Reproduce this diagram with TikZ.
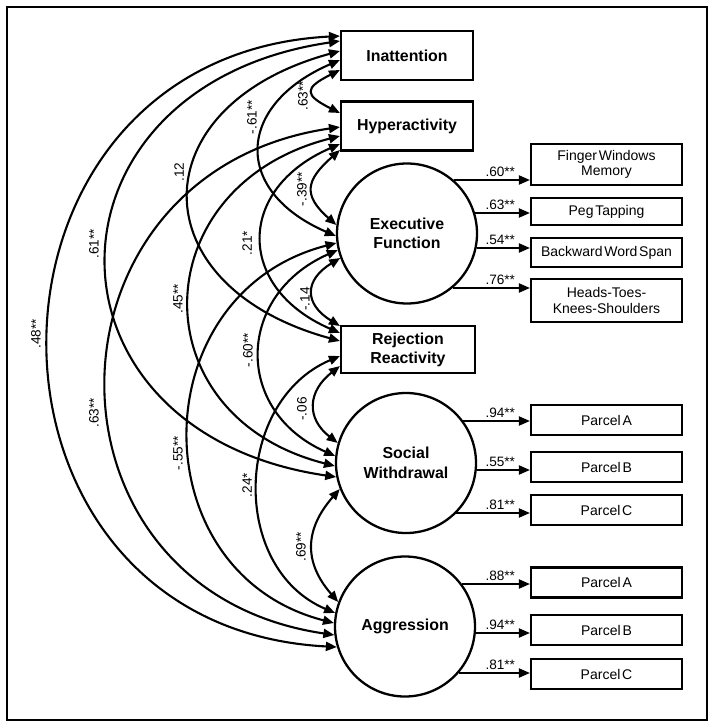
\documentclass[tikz,border=0pt]{standalone}
\usepackage{fontspec}
\setmainfont{Liberation Sans}
\newfontfamily\indfont[WordSpace=0.45]{Liberation Sans}
\usetikzlibrary{arrows.meta,calc}
\begin{document}
\begin{tikzpicture}[x=1pt,y=-1pt,
  box/.style={draw, line width=2.5pt, inner sep=0pt, align=center, font=\bfseries\fontsize{15.9}{19.5}\selectfont},
  lat/.style={draw, circle, line width=2.3pt, minimum size=140pt, inner sep=0pt, align=center, font=\bfseries\fontsize{15.9}{19.5}\selectfont},
  ind/.style={draw, line width=2.3pt, minimum width=150.8pt, inner sep=0pt, align=center, font=\indfont\fontsize{14}{15.5}\selectfont},
  stip/.tip={Triangle[length=11pt,width=9pt]},
  cov/.style={stip-stip, line width=2.1pt},
  load/.style={-stip, line width=1.9pt},
  alab/.style={rotate=90, inner sep=0pt, font=\fontsize{13.6}{15}\selectfont},
  llab/.style={anchor=south east, inner sep=2.5pt, xshift=-11.5pt, font=\fontsize{13.6}{15}\selectfont}
]
\useasboundingbox (0,0) rectangle (714,728);
\draw[line width=1.4pt] (7,7) rectangle (707,720);

% constructs
\node[box, minimum width=131.6pt, minimum height=48.6pt] (Inatt) at (407,55.5) {Inattention};
\node[box, minimum width=131.6pt, minimum height=49.3pt] (Hyp) at (407,126) {Hyperactivity};
\node[lat] (EF) at (407,233.5) {Executive\\Function};
\node[box, minimum width=133.6pt, minimum height=47pt] (RR) at (408,349.7) {Rejection\\Reactivity};
\node[lat] (SW) at (406,463) {Social\\Withdrawal};
\node[lat] (Agg) at (405,626.5) {Aggression};

% indicators
\node[ind, minimum height=40.8pt] (FWM) at (606.5,164.5) {Finger Windows\\Memory};
\node[ind, minimum height=26.8pt] (PT) at (606.5,211.5) {Peg Tapping};
\node[ind, minimum height=28.8pt] (BWS) at (606.5,252.5) {Backward Word Span};
\node[ind, minimum height=42.8pt] (HTKS) at (606.5,300.5) {Heads-Toes-\\Knees-Shoulders};
\node[ind, minimum height=29.8pt] (SWA) at (606.5,420) {Parcel A};
\node[ind, minimum height=29.8pt] (SWB) at (606.5,467) {Parcel B};
\node[ind, minimum height=29.8pt] (SWC) at (606.5,510) {Parcel C};
\node[ind, minimum height=29.8pt] (AgA) at (606.5,582.5) {Parcel A};
\node[ind, minimum height=29.8pt] (AgB) at (606.5,630) {Parcel B};
\node[ind, minimum height=29.8pt] (AgC) at (606.5,674) {Parcel C};

% loadings
\draw[load] ($(EF.center)+(46.68,-53.5)$) -- ($(FWM.west)+(0,15.5)$) node[llab,pos=1] {.60**};
\draw[load] ($(EF.center)+(67.98,-20.5)$) -- ($(PT.west)+(0,1.5)$) node[llab,pos=1] {.63**};
\draw[load] ($(EF.center)+(69.5,14.5)$) -- ($(BWS.west)+(0,-4.5)$) node[llab,pos=1] {.54**};
\draw[load] ($(EF.center)+(45.5,54.5)$) -- ($(HTKS.west)+(0,-12.5)$) node[llab,pos=1] {.76**};
\draw[load] ($(SW.center)+(57.25,-42)$) -- ($(SWA.west)+(0,1)$) node[llab,pos=1] {.94**};
\draw[load] ($(SW.center)+(70.65,7)$) -- ($(SWB.west)+(0,3)$) node[llab,pos=1] {.55**};
\draw[load] ($(SW.center)+(50.41,50)$) -- ($(SWC.west)+(0,3)$) node[llab,pos=1] {.81**};
\draw[load] ($(Agg.center)+(56.87,-42.5)$) -- ($(AgA.west)+(0,1.5)$) node[llab,pos=1] {.88**};
\draw[load] ($(Agg.center)+(70.7,6.5)$) -- ($(AgB.west)+(0,3)$) node[llab,pos=1] {.94**};
\draw[load] ($(Agg.center)+(53.65,46.5)$) -- ($(AgC.west)+(0,-1)$) node[llab,pos=1] {.81**};

% covariances, adjacent
\draw[cov] ($(Inatt.west)+(0,14.5)$) .. controls +(-36,18) and +(-36,-18) .. ($(Hyp.west)+(0,-13)$);
\draw[cov] ($(Hyp.west)+(0,24)$) .. controls +(-34,30) and +(-34,-30) .. ($(EF.west)+(0.51,-8.5)$);
\draw[cov] ($(EF.west)+(4.36,24.5)$) .. controls +(-36,22) and +(-36,-22) .. ($(RR.west)+(0,-23.7)$);
\draw[cov] ($(RR.west)+(0,16.3)$) .. controls +(-32,25) and +(-32,-25) .. ($(SW.west)+(2.88,-20)$);
\draw[cov] ($(SW.west)+(4.93,26)$) .. controls +(-35,40) and +(-35,-40) .. ($(Agg.west)+(4.36,-24.5)$);
% distance 2
\draw[cov] ($(Inatt.west)+(0,4.5)$) .. controls +(-104,45) and +(-104,-45) .. ($(EF.west)+(0.04,2.5)$);
\draw[cov] ($(Hyp.west)+(0,18)$) .. controls +(-104,45) and +(-104,-45) .. ($(RR.west)+(0,-16.7)$);
\draw[cov] ($(EF.west)+(1.94,16.5)$) .. controls +(-102,45) and +(-102,-45) .. ($(SW.west)+(0.35,-7)$);
\draw[cov] ($(RR.west)+(0,6.3)$) .. controls +(-106,45) and +(-106,-45) .. ($(Agg.west)+(1.29,-13.5)$);
% distance 3
\draw[cov] ($(Inatt.west)+(0,-4.5)$) .. controls +(-201,55) and +(-201,-55) .. ($(RR.west)+(0,-8.7)$);
\draw[cov] ($(Hyp.west)+(0,10)$) .. controls +(-197,50) and +(-197,-50) .. ($(SW.west)+(0.06,3)$);
\draw[cov] ($(EF.west)+(0.64,9.5)$) .. controls +(-195,50) and +(-195,-50) .. ($(Agg.west)+(0.09,-3.5)$);
% distance 4
\draw[cov] ($(Inatt.west)+(0,-14.5)$) .. controls +(-308,45) and +(-308,-45) .. ($(SW.west)+(1.39,14)$);
\draw[cov] ($(Hyp.west)+(0,1)$) .. controls +(-307,45) and +(-307,-45) .. ($(Agg.west)+(0.51,8.5)$);
% distance 5
\draw[cov] ($(Inatt.west)+(0,-19.5)$) .. controls +(-386,20) and +(-386,-20) .. ($(Agg.west)+(3.02,20.5)$);

% covariance labels
\node[alab] (c1) at (303,96) {.63**};
\node[alab] (c2) at (302,189) {-.39**};
\node[alab] (c3) at (305,299) {-.14};
\node[alab] (c4) at (302,409) {-.06};
\node[alab] (c5) at (301,547) {.69**};
\node[alab] (c6) at (252,117) {-.61**};
\node[alab] (c7) at (247,243) {.21*};
\node[alab] (c8) at (248,350) {-.60**};
\node[alab] (c9) at (247,485) {.24*};
\node[alab] (c10) at (179,172) {.12};
\node[alab] (c11) at (178,299) {.45**};
\node[alab] (c12) at (178,453) {-.55**};
\node[alab] (c13) at (94,244) {.61**};
\node[alab] (c14) at (94,413) {.63**};
\node[alab] (c15) at (36,334) {.48**};
\end{tikzpicture}
\end{document}
